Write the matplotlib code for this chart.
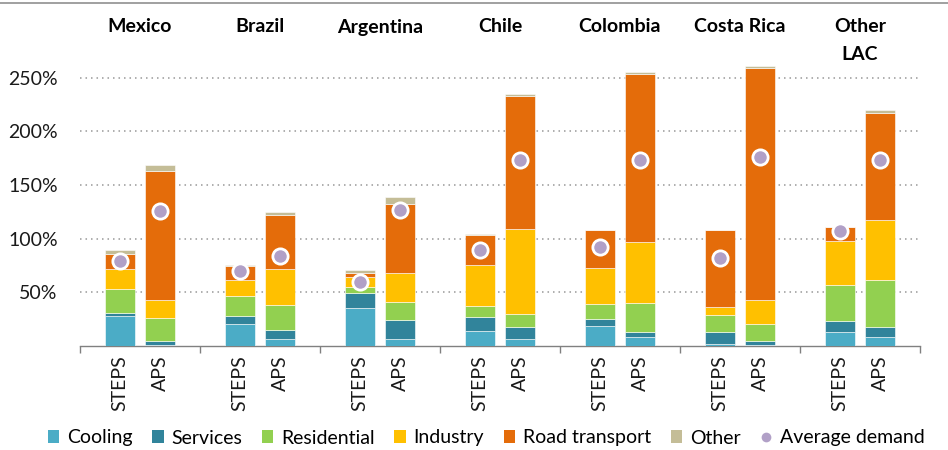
import matplotlib
matplotlib.use("Agg")
import matplotlib.pyplot as plt
import numpy as np
from matplotlib.patches import Patch
from matplotlib.lines import Line2D
from matplotlib.transforms import blended_transform_factory

plt.rcParams['font.family'] = ['Lato', 'DejaVu Sans']

countries = ["Mexico", "Brazil", "Argentina", "Chile", "Colombia", "Costa Rica", "Other\nLAC"]
scenarios = ["STEPS", "APS"]
sectors = ["Cooling", "Services", "Residential", "Industry", "Road transport", "Other"]
colors = ["#4BACC6", "#31849B", "#92D050", "#FFC000", "#E46C0A", "#C4BD97"]
avg_color = "#B1A0C7"

# segment values (%), per country: [STEPS, APS]
cooling     = [[28.0, 1.0], [20.5, 6.5], [35.4, 6.5], [14.0, 6.5], [18.6, 8.4], [2.2, 0.6], [12.7, 8.1]]
services    = [[2.4, 4.0], [7.8, 8.7], [14.3, 18.0], [13.0, 11.5], [6.9, 5.0], [11.2, 4.4], [10.9, 9.6]]
residential = [[22.4, 20.8], [18.0, 23.0], [5.6, 16.8], [10.3, 12.1], [13.6, 27.0], [15.2, 15.2], [32.9, 43.8]]
industry    = [[18.9, 17.4], [14.9, 33.8], [9.3, 26.7], [38.2, 79.2], [33.6, 56.5], [8.0, 22.3], [41.3, 55.9]]
road        = [[14.0, 119.5], [13.0, 50.0], [3.4, 64.6], [27.6, 123.6], [35.1, 156.8], [71.4, 216.8], [12.8, 100.0]]
other       = [[3.4, 6.3], [1.3, 2.5], [2.8, 6.5], [0.9, 1.6], [0.4, 1.9], [0.4, 1.6], [0.4, 2.5]]
avg_demand  = [[79.2, 126.0], [70.2, 84.2], [60.0, 126.4], [89.1, 173.0], [92.5, 173.0], [82.3, 176.4], [107.5, 173.0]]

yticks = [50, 100, 150, 200, 250]

W, H = 948, 450
fig = plt.figure(figsize=(W / 100, H / 100), dpi=100)
ax = fig.add_axes([80 / W, (H - 346) / H, 840 / W, (346 - 61.5) / H])

series = [cooling, services, residential, industry, road, other]
n = len(countries)
offsets = [-1 / 6, 1 / 6]
bw = 0.25

xs_all, labels_all = [], []
for j, scen in enumerate(scenarios):
    x = np.arange(n) + offsets[j]
    bottom = np.zeros(n)
    for s, col in zip(series, colors):
        vals = np.array([v[j] for v in s])
        ax.bar(x, vals, bw, bottom=bottom, color=col, edgecolor="white",
               linewidth=0.4, zorder=3)
        bottom += vals
    ax.plot(x, [a[j] for a in avg_demand], linestyle="none", marker="o",
            markersize=11, markerfacecolor=avg_color, markeredgecolor="white",
            markeredgewidth=2.0, zorder=4)
    xs_all.extend(x)
    labels_all.extend([scen] * n)

ax.set_xlim(-0.5, n - 0.5)
ax.set_ylim(0, 265)

ax.set_yticks(yticks)
ax.set_yticklabels([f"{t}%" for t in yticks], fontsize=14, color="#1a1a1a")
ax.tick_params(axis="y", length=0, pad=16)
ax.yaxis.grid(True, color="#999999", linestyle=(0, (1, 2.6)), linewidth=1.1, zorder=0)

ax.set_xticks(xs_all)
ax.set_xticklabels(labels_all, rotation=90, fontsize=14, color="#1a1a1a", va="top", ha="center")
ax.tick_params(axis="x", which="major", length=0, pad=6.5)
ax.set_xticks(np.arange(n + 1) - 0.5, minor=True)
ax.tick_params(axis="x", which="minor", length=5, width=1, color="#808080")

for sp in ["top", "right", "left"]:
    ax.spines[sp].set_visible(False)
ax.spines["bottom"].set_color("#808080")
ax.spines["bottom"].set_linewidth(1)

tr = blended_transform_factory(ax.transData, fig.transFigure)
for i, c in enumerate(countries):
    lines = c.split("\n")
    for k, ln in enumerate(lines):
        ax.text(i, 1 - (27 + 28 * k) / H, ln, transform=tr, ha="center", va="center",
                fontsize=14, fontweight="bold", color="#000000")

# top border line
fig.add_artist(Line2D([0, 1], [1 - 3 / H, 1 - 3 / H], transform=fig.transFigure,
                      color="#999999", linewidth=1.3))

handles = [Patch(facecolor=c, edgecolor="none", label=s) for s, c in zip(sectors, colors)]
handles.append(Line2D([], [], linestyle="none", marker="o", markersize=7,
                      markerfacecolor=avg_color, markeredgecolor="none", label="Average demand"))
fig.legend(handles=handles, loc="center", bbox_to_anchor=(486 / W, 1 - 438 / H),
           ncol=7, frameon=False, fontsize=14, handlelength=0.6, handleheight=0.6,
           handletextpad=0.4, columnspacing=1.0, borderpad=0, borderaxespad=0)

fig.savefig("out.png", dpi=100)
